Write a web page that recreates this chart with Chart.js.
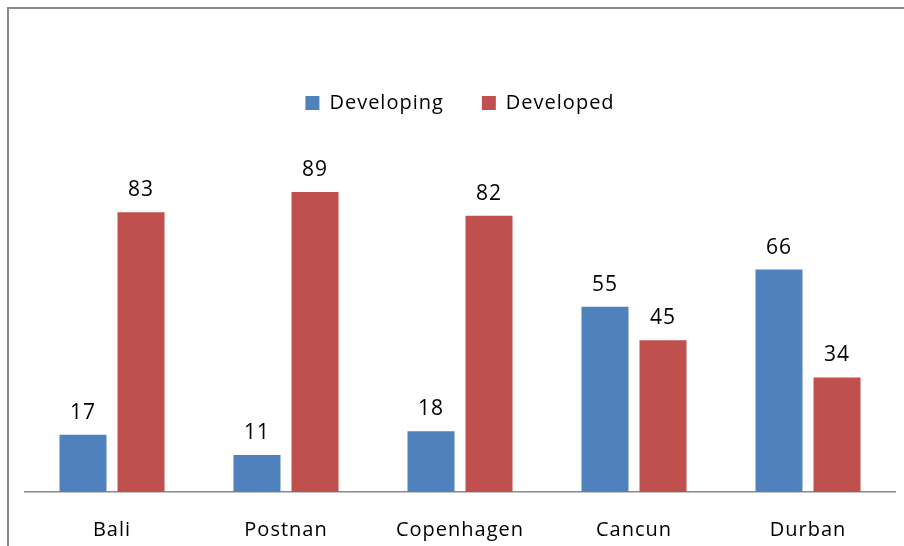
<!DOCTYPE html>
<html>
<head>
<meta charset="utf-8">
<script src="https://cdn.jsdelivr.net/npm/chart.js@4"></script>
<style>
  html, body { margin: 0; padding: 0; background: #fff; }
  #frame {
    position: absolute; left: 7px; top: 7px;
    width: 897px; height: 539px;
    border-left: 2px solid #8a8a8a; border-top: 2px solid #8a8a8a;
  }
  #wrap { position: relative; width: 895px; height: 537px; }
</style>
</head>
<body>
<div id="frame"><div id="wrap"><canvas id="chart"></canvas></div></div>
<script>
// data
const venues = ['Bali', 'Postnan', 'Copenhagen', 'Cancun', 'Durban'];
const developing = [17, 11, 18, 55, 66];
const developed = [83, 89, 82, 45, 34];

const FONT = '"Open Sans", "Noto Sans", sans-serif';

// a little letter spacing, like the original's text
const spacing = {
    id: 'spacing',
    beforeUpdate(chart) { chart.ctx.letterSpacing = '1px'; },
    beforeDraw(chart) { chart.ctx.letterSpacing = '1px'; }
};

// value labels above each bar
const barValues = {
    id: 'barValues',
    afterDatasetsDraw(chart) {
        const ctx = chart.ctx;
        ctx.save();
        ctx.font = '21px ' + FONT;
        ctx.fillStyle = '#000';
        ctx.textAlign = 'center';
        ctx.textBaseline = 'alphabetic';
        chart.data.datasets.forEach((ds, i) => {
            chart.getDatasetMeta(i).data.forEach((bar, j) => {
                ctx.fillText(String(ds.data[j]), bar.x, bar.y - 16);
            });
        });
        ctx.restore();
    }
};

new Chart(document.getElementById('chart'), {
    type: 'bar',
    data: {
        labels: venues,
        datasets: [
            { label: 'Developing', data: developing, backgroundColor: '#4f81bd' },
            { label: 'Developed', data: developed, backgroundColor: '#c0504d' }
        ]
    },
    options: {
        responsive: true,
        maintainAspectRatio: false,
        animation: false,
        categoryPercentage: 0.667,
        barPercentage: 0.81,
        layout: { padding: { left: 16, right: 9, top: 46, bottom: -22 } },
        plugins: {
            legend: {
                position: 'top',
                labels: {
                    boxWidth: 14, boxHeight: 14, padding: 38,
                    color: '#000',
                    font: { family: FONT, size: 20 }
                }
            },
            tooltip: { enabled: false }
        },
        scales: {
            x: {
                grid: { display: false, drawTicks: false },
                border: { display: true, color: '#8a8a8a', width: 1.5 },
                ticks: { color: '#000', padding: 26, font: { family: FONT, size: 20 } }
            },
            y: {
                display: false,
                min: 0,
                max: 109.5
            }
        }
    },
    plugins: [spacing, barValues]
});
</script>
</body>
</html>
